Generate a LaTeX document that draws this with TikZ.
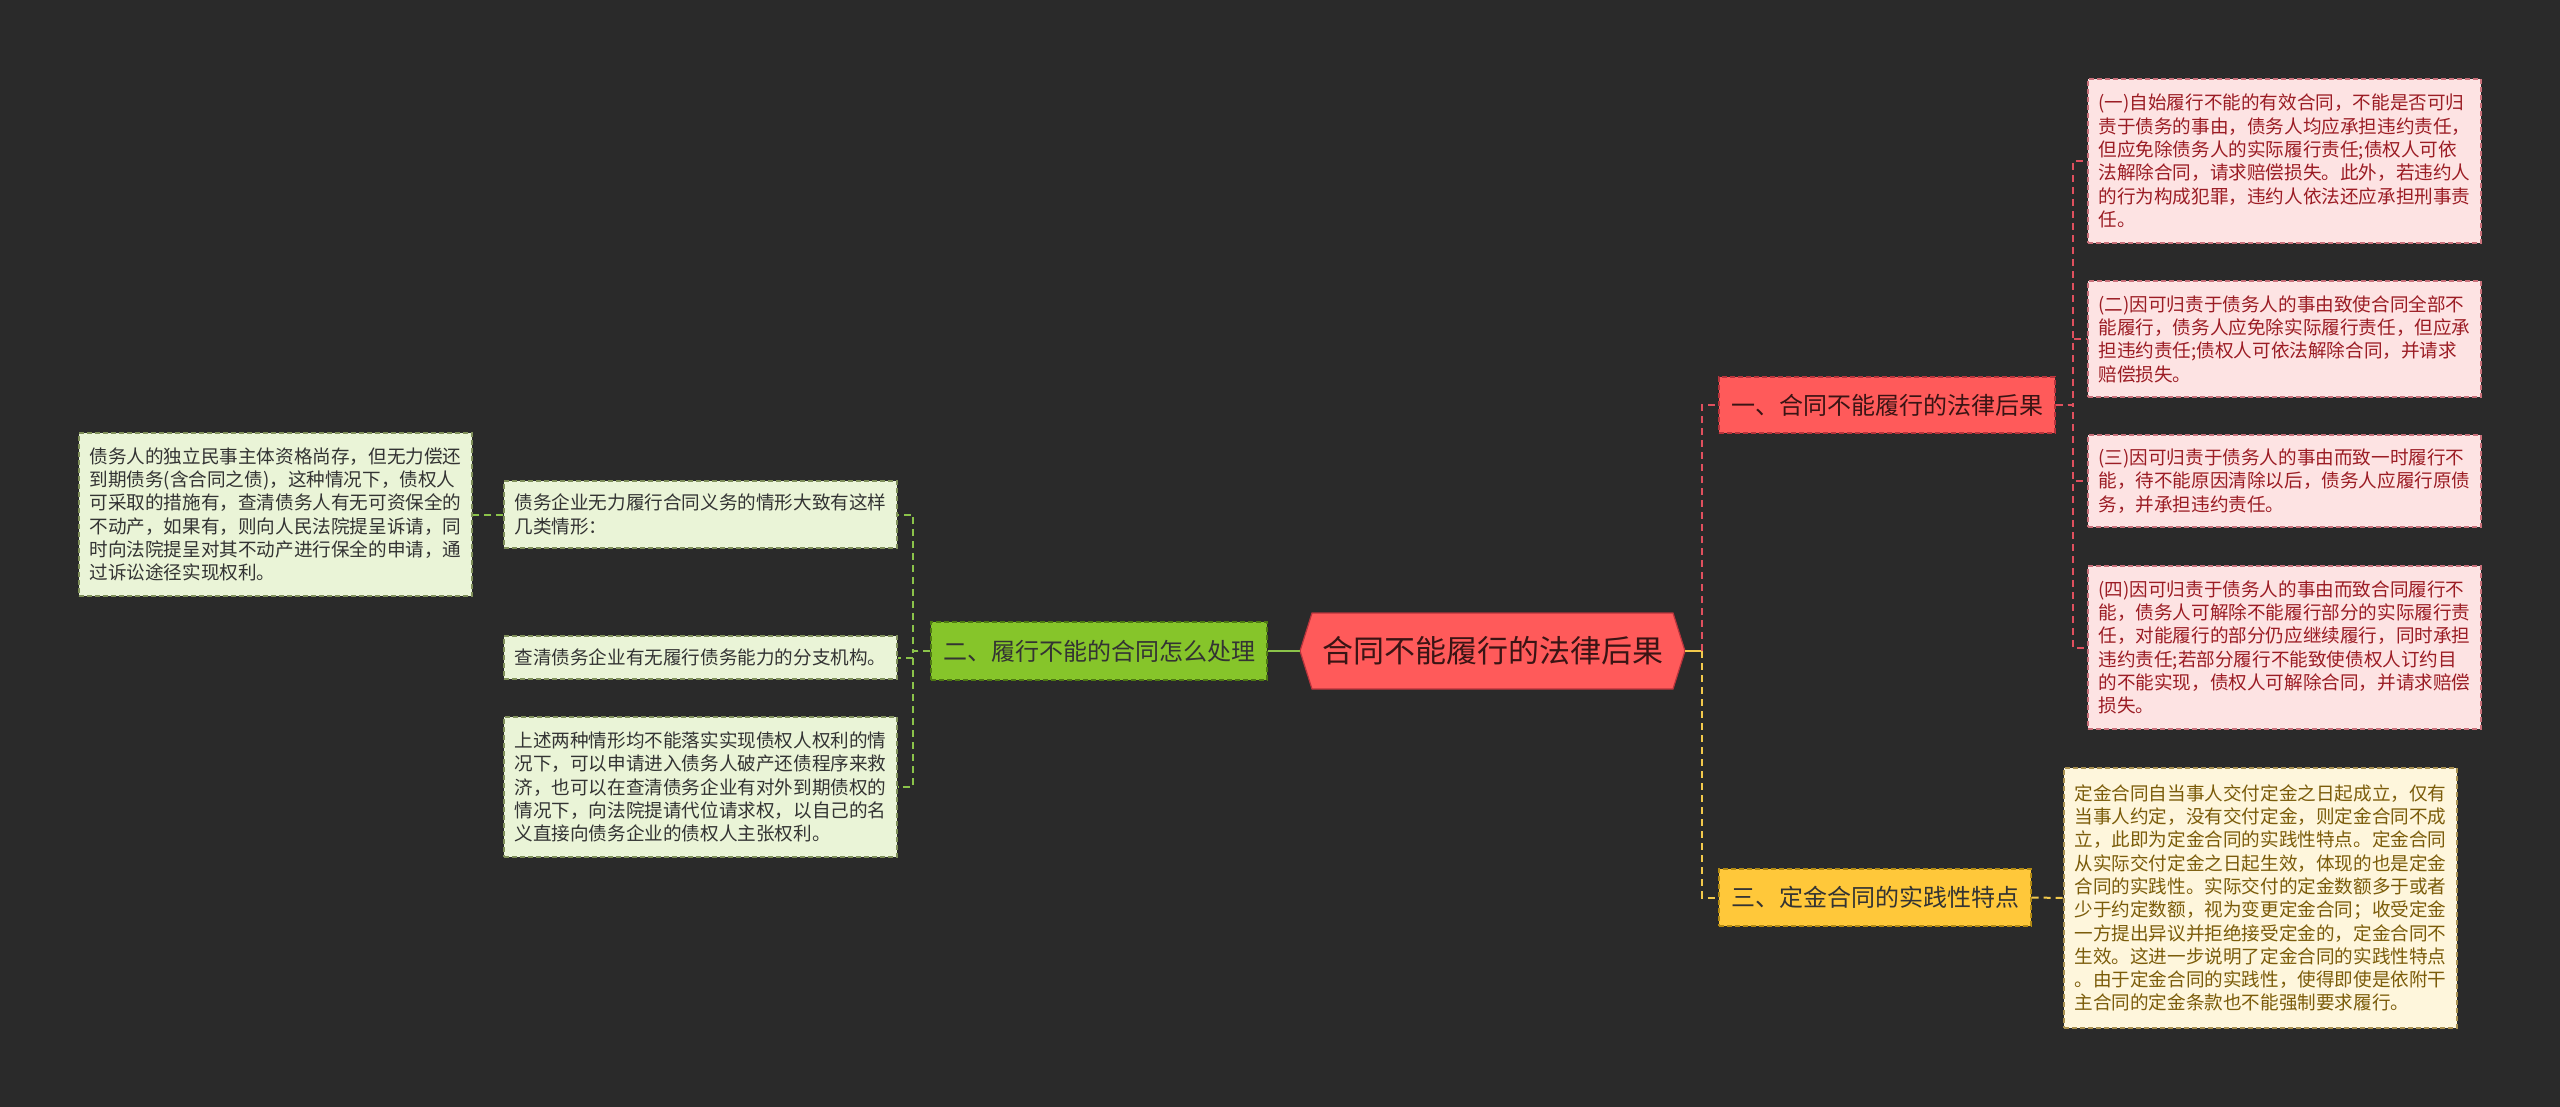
\documentclass[tikz,border=0pt]{standalone}
\usepackage{fontspec}
\setmainfont{Noto Sans CJK SC}
\definecolor{bg}{HTML}{2A2A2A}
\definecolor{redfill}{HTML}{FF5A5A}
\definecolor{redline}{HTML}{E0505E}
\definecolor{reddraw}{HTML}{B8343C}
\definecolor{greenfill}{HTML}{86C52A}
\definecolor{greenline}{HTML}{8BC34A}
\definecolor{greendraw}{HTML}{4E7A12}
\definecolor{yelfill}{HTML}{FFC83A}
\definecolor{yelline}{HTML}{F2C94C}
\definecolor{yeldraw}{HTML}{B38A12}
\definecolor{pinkfill}{HTML}{FDE3E3}
\definecolor{pinktext}{HTML}{9B1C24}
\definecolor{pinkdraw}{HTML}{C9707A}
\definecolor{lgfill}{HTML}{EAF4D7}
\definecolor{lgtext}{HTML}{333333}
\definecolor{lgdraw}{HTML}{7F8F5A}
\definecolor{lyfill}{HTML}{FEF6DC}
\definecolor{lytext}{HTML}{7B5C0A}
\definecolor{lydraw}{HTML}{A89050}
\definecolor{roottext}{HTML}{3A1414}
\begin{document}
\begin{tikzpicture}[x=1pt,y=-1pt,
  box/.style={draw, dash pattern=on 5pt off 3pt, line width=1.3pt, inner sep=0pt, align=left,
    font=\fontsize{18.6}{23.3}\selectfont, minimum width=393pt},
  pinkbox/.style={box, fill=pinkfill, draw=pinkdraw, text=pinktext},
  lgbox/.style={box, fill=lgfill, draw=lgdraw, text=lgtext},
  lybox/.style={box, fill=lyfill, draw=lydraw, text=lytext},
  topic/.style={draw, dash pattern=on 5pt off 3pt, line width=1.3pt, inner sep=0pt,
    font=\fontsize{24}{28}\selectfont},
  conn/.style={line width=2pt, dash pattern=on 7pt off 5pt},
]
\fill[bg] (0,0) rectangle (2560,1107);
\useasboundingbox (0,0) rectangle (2560,1107);

% root
\fill[redfill, draw=reddraw, line width=1.2pt] (1300,651) -- (1312,613) -- (1673,613) -- (1685,651) -- (1673,689) -- (1312,689) -- cycle;
\node[minimum width=385pt, minimum height=76pt, inner sep=0pt, text=roottext,
  font=\fontsize{31}{36}\selectfont] (root) at (1492.5,651) {合同不能履行的法律后果};

% main topics
\node[topic, fill=redfill, draw=reddraw, text=roottext, minimum width=336pt, minimum height=56pt] (n1) at (1887,405) {一、合同不能履行的法律后果};
\node[topic, fill=greenfill, draw=greendraw, text=lgtext, minimum width=336pt, minimum height=58pt] (n2) at (1099,651) {二、履行不能的合同怎么处理};
\node[topic, fill=yelfill, draw=yeldraw, text=lgtext, minimum width=312pt, minimum height=57pt] (n3) at (1875,897.5) {三、定金合同的实践性特点};

% pink details
\node[pinkbox, minimum height=164pt] (p1) at (2284.5,161) {(一)自始履行不能的有效合同，不能是否可归\\责于债务的事由，债务人均应承担违约责任，\\但应免除债务人的实际履行责任;债权人可依\\法解除合同，请求赔偿损失。此外，若违约人\\的行为构成犯罪，违约人依法还应承担刑事责\\任。};
\node[pinkbox, minimum height=116pt] (p2) at (2284.5,339) {(二)因可归责于债务人的事由致使合同全部不\\能履行，债务人应免除实际履行责任，但应承\\担违约责任;债权人可依法解除合同，并请求\\赔偿损失。};
\node[pinkbox, minimum height=92pt] (p3) at (2284.5,481) {(三)因可归责于债务人的事由而致一时履行不\\能，待不能原因清除以后，债务人应履行原债\\务，并承担违约责任。};
\node[pinkbox, minimum height=163pt] (p4) at (2284.5,647.5) {(四)因可归责于债务人的事由而致合同履行不\\能，债务人可解除不能履行部分的实际履行责\\任，对能履行的部分仍应继续履行，同时承担\\违约责任;若部分履行不能致使债权人订约目\\的不能实现，债权人可解除合同，并请求赔偿\\损失。};

% yellow detail
\node[lybox, minimum height=260pt] (y1) at (2260.5,898) {定金合同自当事人交付定金之日起成立，仅有\\当事人约定，没有交付定金，则定金合同不成\\立，此即为定金合同的实践性特点。定金合同\\从实际交付定金之日起生效，体现的也是定金\\合同的实践性。实际交付的定金数额多于或者\\少于约定数额，视为变更定金合同；收受定金\\一方提出异议并拒绝接受定金的，定金合同不\\生效。这进一步说明了定金合同的实践性特点\\。由于定金合同的实践性，使得即使是依附干\\主合同的定金条款也不能强制要求履行。};

% green details
\node[lgbox, minimum height=67pt] (gA) at (700.5,514.5) {债务企业无力履行合同义务的情形大致有这样\\几类情形：};
\node[lgbox, minimum height=43pt, text width=372pt] (gB) at (700.5,657.5) {查清债务企业有无履行债务能力的分支机构。};
\node[lgbox, minimum height=140pt] (gC) at (700.5,787) {上述两种情形均不能落实实现债权人权利的情\\况下，可以申请进入债务人破产还债程序来救\\济，也可以在查清债务企业有对外到期债权的\\情况下，向法院提请代位请求权，以自己的名\\义直接向债务企业的债权人主张权利。};
\node[lgbox, minimum height=163pt] (g0) at (275.5,514.5) {债务人的独立民事主体资格尚存，但无力偿还\\到期债务(含合同之债)，这种情况下，债权人\\可采取的措施有，查清债务人有无可资保全的\\不动产，如果有，则向人民法院提呈诉请，同\\时向法院提呈对其不动产进行保全的申请，通\\过诉讼途径实现权利。};

% connectors
\coordinate (rbus) at (1702,651);
\draw[yelline, line width=2pt] (root.east) -- (rbus);
\draw[conn, redline] (rbus) |- (n1.west);
\draw[conn, yelline] (rbus) |- (n3.west);
\draw[greenline, line width=2pt] (root.west) -- (n2.east);

\foreach \p in {p1,p2,p3,p4}{
  \draw[conn, redline] (n1.east) -- ++(17,0) |- (\p.west);
}
\foreach \g in {gA,gB,gC}{
  \draw[conn, greenline] (n2.west) -- ++(-17,0) |- (\g.east);
}
\draw[conn, greenline] (gA.west) -- (g0.east);
\draw[conn, yelline] (n3.east) -- (y1.west);
\end{tikzpicture}
\end{document}
